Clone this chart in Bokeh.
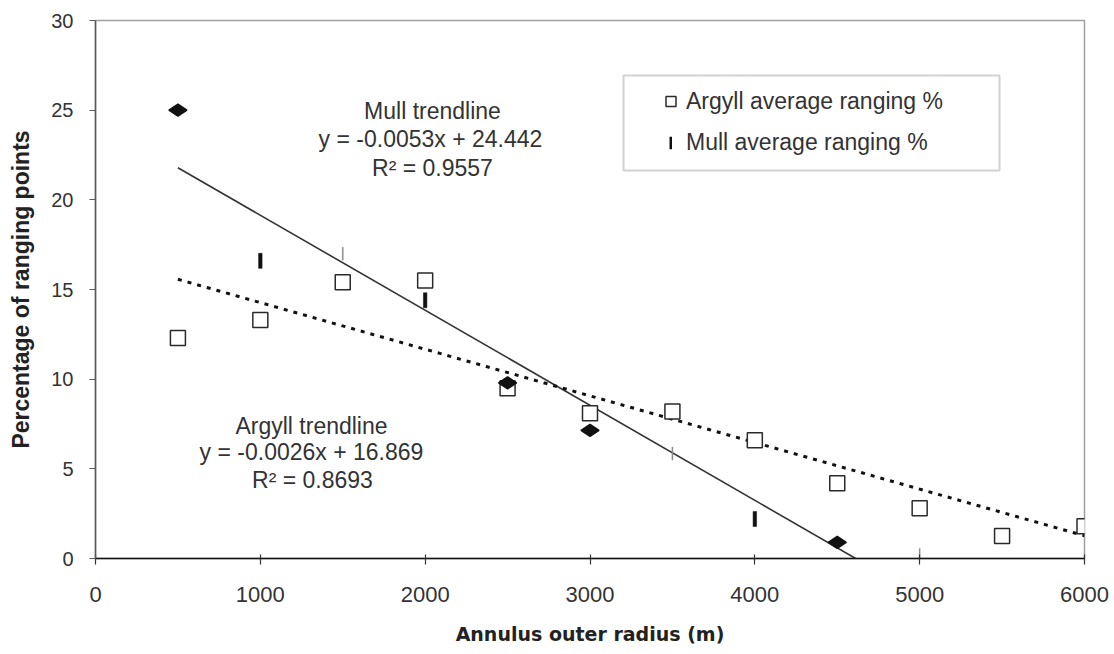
from bokeh.plotting import figure
from bokeh.models import (Range1d, FixedTicker, Legend, LegendItem, Label,
                          BoxAnnotation, ColumnDataSource, CDSView, IndexFilter)
from bokeh.embed import file_html
from bokeh.resources import INLINE
import numpy as np

# ---- data -------------------------------------------------------------
argyll_radius = [500, 1000, 1500, 2000, 2500, 3000, 3500, 4000, 4500, 5000, 5500, 6000]
argyll_pct = [12.3, 13.3, 15.4, 15.5, 9.5, 8.1, 8.2, 6.6, 4.2, 2.8, 1.25, 1.8]

mull_radius = [500, 1000, 1500, 2000, 2500, 3000, 3500, 4000, 4500, 5000]
mull_pct = [25.0, 16.6, 17.0, 14.4, 9.8, 7.15, 5.85, 2.2, 0.9, 0.2]

# fitted trendlines: slope, intercept, r squared
mull_fit = (-0.0053, 24.442, 0.9557)
argyll_fit = (-0.0026, 16.869, 0.8693)

x_ticks = [0, 1000, 2000, 3000, 4000, 5000, 6000]
y_ticks = [0, 5, 10, 15, 20, 25, 30]

# how each Mull point is marked: filled diamond, heavy bar or faint bar
mull_style = ["diamond", "bar", "faint", "bar", "diamond", "diamond",
              "faint", "bar", "diamond", "faint"]

FONT = "Liberation Sans"
TXT = "#333333"

p = figure(output_backend="svg", toolbar_location=None,
           x_range=Range1d(0, 6000), y_range=Range1d(0, 30),
           frame_width=989, frame_height=538,
           min_border_left=95, min_border_right=30, min_border_top=20,
           min_border_bottom=96)
p.background_fill_color = "white"
p.border_fill_color = "white"
p.outline_line_color = "#a0a0a0"
p.outline_line_width = 1.5
p.xgrid.visible = False
p.ygrid.visible = False

# ---- axes ---------------------------------------------------------------
p.xaxis.ticker = FixedTicker(ticks=x_ticks)
p.yaxis.ticker = FixedTicker(ticks=y_ticks)
p.xaxis.minor_tick_line_color = None
p.yaxis.minor_tick_line_color = None

p.xaxis.axis_line_color = "#111111"
p.xaxis.axis_line_width = 1.5
p.xaxis.major_tick_line_color = "#333333"
p.xaxis.major_tick_line_width = 1.2
p.xaxis.major_tick_in = 4
p.xaxis.major_tick_out = 6

p.yaxis.axis_line_color = "#5a5a5a"
p.yaxis.axis_line_width = 1.5
p.yaxis.major_tick_line_color = "#5a5a5a"
p.yaxis.major_tick_line_width = 1.2
p.yaxis.major_tick_in = 0
p.yaxis.major_tick_out = 6

p.xaxis.major_label_text_font = FONT
p.xaxis.major_label_text_font_size = "22px"
p.xaxis.major_label_text_color = TXT
p.xaxis.major_label_standoff = 22
p.yaxis.major_label_text_font = FONT
p.yaxis.major_label_text_font_size = "20px"
p.yaxis.major_label_text_color = TXT
p.yaxis.major_label_standoff = 16

p.xaxis.axis_label = "Annulus outer radius (m)"
p.xaxis.axis_label_text_font = "DejaVu Sans"
p.xaxis.axis_label_text_font_size = "19px"
p.xaxis.axis_label_text_font_style = "bold"
p.xaxis.axis_label_text_color = "#222222"
p.xaxis.axis_label_standoff = 18

p.yaxis.axis_label = "Percentage of ranging points"
p.yaxis.axis_label_text_font = FONT
p.yaxis.axis_label_text_font_size = "23px"
p.yaxis.axis_label_text_font_style = "bold"
p.yaxis.axis_label_text_color = "#222222"
p.yaxis.axis_label_standoff = 14

# ---- trendlines -----------------------------------------------------------
m_slope, m_icpt, m_r2 = mull_fit
mx = [mull_radius[0], -m_icpt / m_slope]
p.line(mx, [m_slope * v + m_icpt for v in mx], line_color="#333333", line_width=1.6)

a_slope, a_icpt, a_r2 = argyll_fit
ax_ = [argyll_radius[0], argyll_radius[-1]]
p.line(ax_, [a_slope * v + a_icpt for v in ax_], line_color="#111111",
       line_width=3, line_dash="4 6")

# ---- points ---------------------------------------------------------------
r_arg = p.scatter(argyll_radius, argyll_pct, marker="square", size=15,
                  fill_color="white", line_color="#2a2a2a", line_width=1.5)

mull_src = ColumnDataSource(dict(x=mull_radius, y=mull_pct))


def mull_view(kind):
    return CDSView(filter=IndexFilter([i for i, s in enumerate(mull_style) if s == kind]))


p.scatter("x", "y", source=mull_src, view=mull_view("diamond"), marker="diamond",
          size=18, angle=np.pi / 2, fill_color="#111111", line_color="#111111",
          line_width=1.5)
r_bar = p.rect("x", "y", source=mull_src, view=mull_view("bar"), width=3.5, height=15,
               width_units="screen", height_units="screen",
               fill_color="#111111", line_color="#111111", line_width=0.5)
p.rect("x", "y", source=mull_src, view=mull_view("faint"), width=1.2, height=13,
       width_units="screen", height_units="screen",
       fill_color="#8a8a8a", line_color="#8a8a8a", line_width=0.3)

# ---- trendline equations ----------------------------------------------------
H = 538  # frame height in px; labels are placed from the frame's lower-left corner


def add_text(cx, cy, txt):
    p.add_layout(Label(x=cx - 95, y=H - (cy - 20), x_units="screen", y_units="screen",
                       text=txt, text_font=FONT, text_font_size="23px",
                       text_color=TXT, text_align="center", text_baseline="middle"))


add_text(432, 110, "Mull trendline")
add_text(430, 138, f"y = {m_slope}x + {m_icpt}")
add_text(432, 167, f"R² = {m_r2}")
add_text(311, 425, "Argyll trendline")
add_text(311, 451, f"y = {a_slope}x + {a_icpt}")
add_text(312, 479, f"R² = {a_r2}")

# ---- legend -----------------------------------------------------------------
p.add_layout(BoxAnnotation(left=623 - 95, right=999 - 95,
                           top=H - (75 - 20), bottom=H - (170 - 20),
                           left_units="screen", right_units="screen",
                           top_units="screen", bottom_units="screen",
                           fill_color="white", fill_alpha=1.0,
                           line_color="#6a6a6a", line_width=2))


def style_legend(lg):
    lg.padding = 0
    lg.margin = 0
    lg.spacing = 0
    lg.label_text_font = FONT
    lg.label_text_font_size = "23px"
    lg.label_text_color = TXT
    lg.border_line_alpha = 0
    lg.background_fill_alpha = 0
    return lg


leg_a = style_legend(Legend(items=[LegendItem(label="Argyll average ranging %",
                                              renderers=[r_arg], index=0)],
                            location=(563, 443)))
leg_a.glyph_width = 25
leg_a.glyph_height = 28
leg_a.label_height = 28
leg_a.label_standoff = 3
p.add_layout(leg_a)

leg_m = style_legend(Legend(items=[LegendItem(label="Mull average ranging %",
                                              renderers=[r_bar])],
                            location=(574, 402)))
leg_m.glyph_width = 3
leg_m.glyph_height = 15
leg_m.label_height = 15
leg_m.label_standoff = 14
p.add_layout(leg_m)

open("out.html", "w").write(file_html(p, INLINE))
